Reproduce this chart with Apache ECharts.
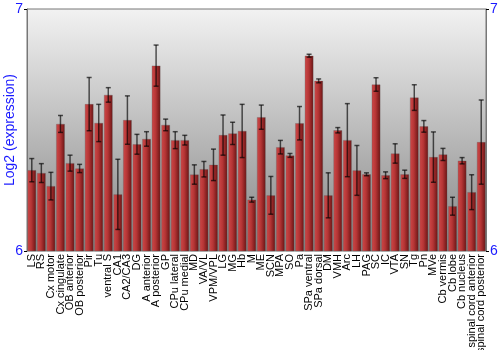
<!DOCTYPE html>
<html><head><meta charset="utf-8">
<script src="https://cdn.jsdelivr.net/npm/echarts@6/dist/echarts.min.js"></script>
<style>html,body{margin:0;padding:0;background:#fff}#c{width:500px;height:350px}</style>
</head><body><div id="c"></div>
<script>
const categories = ["LS","RS","Cx motor","Cx cingulate","OB anterior","OB posterior","Pir","Tu","ventral S","CA1","CA2/CA3","DG","A anterior","A posterior","GP","CPu lateral","CPu medial","MD","VA/VL","VPM/VPL","LG","MG","Hb","M","ME","SCN","MPA","SO","Pa","SPa ventral","SPa dorsal","DM","VMH","Arc","LH","PAG","SC","IC","VTA","SN","Tg","Pn","MVe","Cb vermis","Cb lobe","Cb nucleus","spinal cord anterior","spinal cord posterior"];
const values = [6.334,6.322,6.268,6.525,6.363,6.341,6.607,6.529,6.645,6.234,6.541,6.441,6.463,6.766,6.521,6.458,6.458,6.316,6.338,6.356,6.479,6.486,6.496,6.212,6.553,6.230,6.429,6.395,6.528,6.807,6.703,6.230,6.499,6.458,6.333,6.317,6.688,6.313,6.403,6.317,6.634,6.515,6.388,6.399,6.185,6.373,6.243,6.450];
const errors = [0.048,0.039,0.057,0.035,0.033,0.017,0.110,0.077,0.030,0.145,0.100,0.041,0.030,0.085,0.024,0.035,0.020,0.040,0.032,0.065,0.083,0.046,0.110,0.010,0.050,0.078,0.028,0.008,0.069,0.006,0.008,0.093,0.011,0.151,0.103,0.006,0.028,0.014,0.040,0.017,0.053,0.024,0.104,0.025,0.037,0.013,0.072,0.174];
const yTicks = {min: 6, max: 7, interval: 1};

const errData = values.map((v, i) => [i, v - errors[i], v + errors[i]]);
const chart = echarts.init(document.getElementById('c'), null, {renderer: 'canvas'});
const yAxisBase = {
  type: 'value', min: yTicks.min, max: yTicks.max, interval: yTicks.interval,
  axisLine: {show: true, lineStyle: {color: '#777', width: 1}},
  axisTick: {show: true, length: 3, lineStyle: {color: '#000'}},
  splitLine: {show: false},
  axisLabel: {color: '#1a1aff', fontSize: 14, fontFamily: 'Liberation Sans, Arial', margin: 4}
};
chart.setOption({
  animation: false,
  grid: {left: 27, right: 14, top: 9, height: 242, show: true,
    containLabel: false, outerBoundsMode: 'none',
    borderColor: '#777', borderWidth: 1,
    backgroundColor: new echarts.graphic.LinearGradient(0, 0, 0, 1, [
      {offset: 0, color: '#f2f2f2'}, {offset: 1, color: '#858585'}])},
  xAxis: {
    type: 'category', data: categories,
    axisLine: {show: false}, axisTick: {show: false},
    axisLabel: {rotate: 90, interval: 0, fontSize: 11, color: '#000', margin: 3,
      fontFamily: 'Liberation Sans, Arial'}
  },
  yAxis: [
    Object.assign({}, yAxisBase, {position: 'left', name: 'Log2 (expression)',
      nameLocation: 'middle', nameGap: 10, nameMoveOverlap: false,
      nameTextStyle: {color: '#1a1aff', fontSize: 14, fontFamily: 'Liberation Sans, Arial'}}),
    Object.assign({}, yAxisBase, {position: 'right'})
  ],
  series: [
    {
      type: 'bar', data: values, barCategoryGap: '10%',
      itemStyle: {
        color: new echarts.graphic.LinearGradient(0, 0, 1, 0, [
          {offset: 0, color: '#cf4848'}, {offset: 0.45, color: '#b53535'}, {offset: 1, color: '#6a1414'}]),
        borderColor: 'rgba(90,90,90,0.6)', borderWidth: 0.5
      }
    },
    {
      type: 'custom', data: errData, z: 5,
      renderItem: function (params, api) {
        const x = api.value(0);
        const lo = api.coord([x, api.value(1)]);
        const hi = api.coord([x, api.value(2)]);
        const hw = 2.5;
        const st = {stroke: 'rgba(0,0,0,0.65)', lineWidth: 1.5};
        return {type: 'group', children: [
          {type: 'line', shape: {x1: lo[0], y1: lo[1], x2: hi[0], y2: hi[1]}, style: st},
          {type: 'line', shape: {x1: lo[0] - hw, y1: lo[1], x2: lo[0] + hw, y2: lo[1]}, style: st},
          {type: 'line', shape: {x1: hi[0] - hw, y1: hi[1], x2: hi[0] + hw, y2: hi[1]}, style: st}
        ]};
      }
    }
  ]
});
</script></body></html>
